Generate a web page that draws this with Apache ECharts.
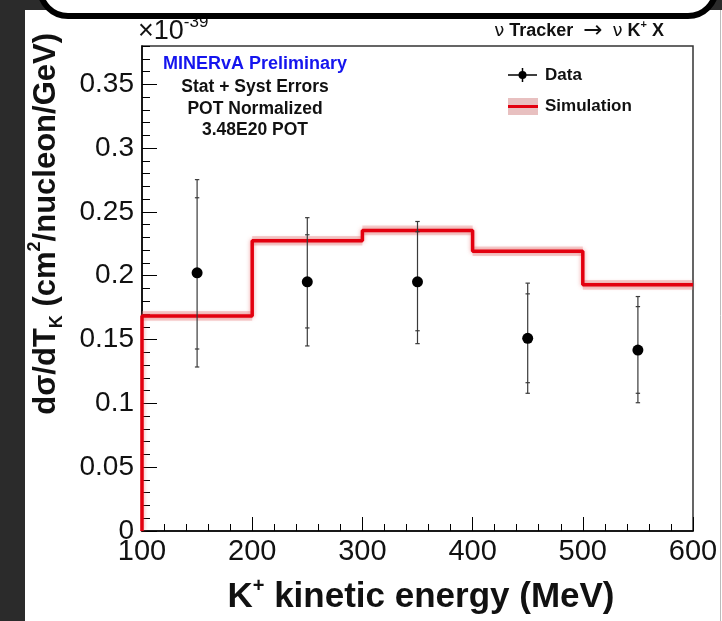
<!DOCTYPE html>
<html>
<head>
<meta charset="utf-8">
<title>K+ kinetic energy cross section</title>
<script src="https://cdn.jsdelivr.net/npm/echarts@6/dist/echarts.min.js"></script>
<style>
  html, body { margin: 0; padding: 0; background: #2b2b2b; }
  #chart { width: 722px; height: 621px; }
</style>
</head>
<body>
<div id="chart"></div>
<script>
// Bin edges of the kaon kinetic energy histogram (MeV)
const binEdges = [100, 200, 300, 400, 500, 600];
// Simulated cross section per bin (units of 1e-39 cm^2/nucleon/GeV)
const simValues = [0.1685, 0.2274, 0.2355, 0.2192, 0.1929];
// Half-width of the simulation uncertainty band
const simErrors = [0.003, 0.003, 0.003, 0.003, 0.003];
// Data points at bin centres
const dataX = [150, 250, 350, 450, 550];
const dataValues = [0.2023, 0.1952, 0.1952, 0.1510, 0.1418];
// Statistical error bar ends (inner caps)
const statLow = [0.1426, 0.1591, 0.1569, 0.1162, 0.1079];
const statHigh = [0.2611, 0.2321, 0.2345, 0.1858, 0.1758];
// Total (stat + syst) error bar ends (outer caps)
const totalLow = [0.1285, 0.1450, 0.1468, 0.1079, 0.1005];
const totalHigh = [0.2753, 0.2455, 0.2425, 0.1942, 0.1837];
// Axis tick labels
const xTicks = [100, 200, 300, 400, 500, 600];
const yTicks = [0, 0.05, 0.1, 0.15, 0.2, 0.25, 0.3, 0.35];

const FONT = '"Liberation Sans", Arial, Helvetica, sans-serif';
const SYMBOL_FONT = '"DejaVu Sans", "Liberation Sans", sans-serif';

// Step outline: start at zero on the left edge, one point per bin start, closing point at the last edge
const simStep = [[binEdges[0], 0]]
  .concat(simValues.map((v, i) => [binEdges[i], v]))
  .concat([[binEdges[binEdges.length - 1], simValues[simValues.length - 1]]]);

const chart = echarts.init(document.getElementById('chart'), null, { renderer: 'canvas' });

const option = {
  backgroundColor: '#2b2b2b',
  animation: false,
  grid: {
    left: 142, right: 29, top: 46, bottom: 90,
    show: true, borderColor: '#333', borderWidth: 1.5, backgroundColor: 'transparent'
  },
  xAxis: [
    {
      type: 'value', min: 100, max: 600, interval: 100,
      axisLine: { show: true, onZero: false, lineStyle: { color: '#000', width: 1.5 } },
      axisTick: { show: true, inside: true, length: 14, lineStyle: { color: '#000', width: 1 } },
      splitLine: { show: false },
      axisLabel: {
        show: true, fontSize: 29, color: '#111', fontFamily: FONT, margin: 6,
        customValues: xTicks
      }
    },
    {
      type: 'value', min: 100, max: 600, interval: 20, position: 'bottom',
      axisLine: { show: false },
      axisTick: { show: true, inside: true, length: 7, lineStyle: { color: '#000', width: 1 } },
      splitLine: { show: false },
      axisLabel: { show: false }
    }
  ],
  yAxis: [
    {
      type: 'value', min: 0, max: 0.38, position: 'left',
      axisLine: { show: true, onZero: false, lineStyle: { color: '#000', width: 1.5 } },
      axisTick: { show: true, inside: true, length: 15, customValues: yTicks, lineStyle: { color: '#000', width: 1 } },
      splitLine: { show: false },
      axisLabel: {
        show: true, fontSize: 28, color: '#111', fontFamily: FONT, margin: 8,
        customValues: yTicks,
        formatter: v => (v === 0 ? '0' : String(+v.toFixed(2)))
      }
    },
    {
      type: 'value', min: 0, max: 0.38, interval: 0.01, position: 'left', offset: 0,
      axisLine: { show: false },
      axisTick: { show: true, inside: true, length: 8, lineStyle: { color: '#000', width: 1 } },
      splitLine: { show: false },
      axisLabel: { show: false }
    }
  ],
  series: [
    {
      // Simulation uncertainty band
      name: 'Simulation band',
      type: 'custom',
      xAxisIndex: 0, yAxisIndex: 0,
      z: 2,
      data: simValues.map((v, i) => [binEdges[i], binEdges[i + 1], v - simErrors[i], v + simErrors[i]]),
      encode: { x: [0, 1], y: [2, 3] },
      renderItem(params, api) {
        const p0 = api.coord([api.value(0), api.value(3)]);
        const p1 = api.coord([api.value(1), api.value(2)]);
        return {
          type: 'rect',
          shape: { x: p0[0], y: p0[1] - 1, width: p1[0] - p0[0], height: p1[1] - p0[1] + 2 },
          style: { fill: 'rgba(225, 130, 130, 0.35)' }
        };
      }
    },
    {
      name: 'Simulation',
      type: 'line',
      xAxisIndex: 0, yAxisIndex: 0,
      step: 'end',
      z: 3,
      data: simStep,
      showSymbol: false,
      lineStyle: { color: '#e3000f', width: 3.5, shadowColor: 'rgba(230, 90, 90, 0.6)', shadowBlur: 4 }
    },
    {
      // Data error bars: outer caps = total uncertainty, inner caps = statistical
      name: 'Data errors',
      type: 'custom',
      xAxisIndex: 0, yAxisIndex: 0,
      z: 4,
      data: dataX.map((x, i) => [x, totalLow[i], totalHigh[i], statLow[i], statHigh[i]]),
      encode: { x: 0, y: [1, 2] },
      renderItem(params, api) {
        const x = api.value(0);
        const ends = [1, 2, 3, 4].map(k => api.coord([x, api.value(k)]));
        const cx = ends[0][0];
        const stroke = { stroke: '#3a3a3a', lineWidth: 1.2 };
        const children = [{
          type: 'line',
          shape: { x1: cx, y1: ends[0][1], x2: cx, y2: ends[1][1] },
          style: stroke
        }];
        ends.forEach(p => {
          children.push({
            type: 'line',
            shape: { x1: cx - 2.2, y1: p[1], x2: cx + 2.2, y2: p[1] },
            style: stroke
          });
        });
        return { type: 'group', children };
      }
    },
    {
      name: 'Data',
      type: 'scatter',
      xAxisIndex: 0, yAxisIndex: 0,
      z: 5,
      symbol: 'circle',
      symbolSize: 11,
      itemStyle: { color: '#000', opacity: 1 },
      data: dataX.map((x, i) => [x, dataValues[i]])
    }
  ],
  graphic: [
    // White page behind the plot
    { type: 'rect', z: -100, silent: true, shape: { x: 25, y: 10, width: 697, height: 611 }, style: { fill: '#fff' } },
    { type: 'line', z: -90, silent: true, shape: { x1: 720.5, y1: 10, x2: 720.5, y2: 621 }, style: { stroke: '#bbb', lineWidth: 1 } },
    // Rounded banner across the top
    { type: 'rect', z: 100, silent: true, shape: { x: 40, y: -40, width: 676, height: 56, r: 30 }, style: { fill: '#fff', stroke: '#000', lineWidth: 6 } },
    // Exponent of the y axis
    {
      type: 'text', z: 50, left: 138, top: 14,
      style: {
        text: '×10{sup|-39}', fontFamily: FONT, fontSize: 27, fill: '#111',
        rich: { sup: { fontSize: 17, fontFamily: FONT, fill: '#111', verticalAlign: 'top', lineHeight: 36 } },
        lineHeight: 36
      }
    },
    // Process label
    {
      type: 'text', z: 50, x: 664, y: 31,
      style: {
        text: '{g|ν} Tracker {a|→} {g|ν} K{sup|+} X', fontFamily: FONT, fontSize: 18, fontWeight: 'bold', fill: '#111',
        align: 'right', verticalAlign: 'middle', lineHeight: 24,
        rich: {
          g: { fontSize: 18, fontWeight: 'normal', fontFamily: SYMBOL_FONT, fill: '#111', lineHeight: 24 },
          a: { fontSize: 23, fontWeight: 'normal', fontFamily: SYMBOL_FONT, fill: '#111', lineHeight: 24, padding: [0, 5, 0, 5] },
          sup: { fontSize: 11, fontWeight: 'bold', fontFamily: FONT, fill: '#111', verticalAlign: 'top', lineHeight: 24 }
        }
      }
    },
    // Info block
    { type: 'text', z: 50, x: 255, y: 64, style: { text: 'MINERvA Preliminary', fontFamily: FONT, fontSize: 18, fontWeight: 'bold', fill: '#1515ee', align: 'center', verticalAlign: 'middle' } },
    { type: 'text', z: 50, x: 255, y: 87, style: { text: 'Stat + Syst Errors', fontFamily: FONT, fontSize: 17.5, fontWeight: 'bold', fill: '#111', align: 'center', verticalAlign: 'middle' } },
    { type: 'text', z: 50, x: 255, y: 109, style: { text: 'POT Normalized', fontFamily: FONT, fontSize: 17.5, fontWeight: 'bold', fill: '#111', align: 'center', verticalAlign: 'middle' } },
    { type: 'text', z: 50, x: 255, y: 130, style: { text: '3.48E20 POT', fontFamily: FONT, fontSize: 17.5, fontWeight: 'bold', fill: '#111', align: 'center', verticalAlign: 'middle' } },
    // Legend: data marker
    { type: 'line', z: 50, shape: { x1: 508, y1: 75, x2: 537, y2: 75 }, style: { stroke: '#000', lineWidth: 1.5 } },
    { type: 'line', z: 50, shape: { x1: 522.5, y1: 68, x2: 522.5, y2: 82 }, style: { stroke: '#000', lineWidth: 1.5 } },
    { type: 'circle', z: 51, shape: { cx: 522.5, cy: 75, r: 4 }, style: { fill: '#000' } },
    { type: 'text', z: 50, x: 545, y: 75, style: { text: 'Data', fontFamily: FONT, fontSize: 17, fontWeight: 'bold', fill: '#111', align: 'left', verticalAlign: 'middle' } },
    // Legend: simulation band and line
    { type: 'rect', z: 50, shape: { x: 508, y: 98, width: 30, height: 17 }, style: { fill: 'rgba(210, 130, 130, 0.5)' } },
    { type: 'line', z: 51, shape: { x1: 508, y1: 106.5, x2: 538, y2: 106.5 }, style: { stroke: '#e3000f', lineWidth: 3 } },
    { type: 'text', z: 50, x: 545, y: 106, style: { text: 'Simulation', fontFamily: FONT, fontSize: 17, fontWeight: 'bold', fill: '#111', align: 'left', verticalAlign: 'middle' } },
    // Axis titles
    {
      type: 'text', z: 50, x: 421, y: 597,
      style: {
        text: 'K{sup|+} kinetic energy (MeV)', fontFamily: FONT, fontSize: 35, fontWeight: 'bold', fill: '#111',
        align: 'center', verticalAlign: 'middle', lineHeight: 42,
        rich: { sup: { fontSize: 20, fontWeight: 'bold', fontFamily: FONT, fill: '#111', verticalAlign: 'top', lineHeight: 42 } }
      }
    },
    {
      type: 'text', z: 50, x: 46, y: 33, rotation: Math.PI / 2,
      style: {
        text: 'dσ/dT{sub|K} (cm{sup|2}/nucleon/GeV)', fontFamily: FONT, fontSize: 31, fontWeight: 'bold', fill: '#111',
        align: 'right', verticalAlign: 'middle', lineHeight: 40,
        rich: {
          sub: { fontSize: 18, fontWeight: 'bold', fontFamily: FONT, fill: '#111', verticalAlign: 'bottom', lineHeight: 40 },
          sup: { fontSize: 18, fontWeight: 'bold', fontFamily: FONT, fill: '#111', verticalAlign: 'top', lineHeight: 40 }
        }
      }
    }
  ]
};

chart.setOption(option);
</script>
</body>
</html>
